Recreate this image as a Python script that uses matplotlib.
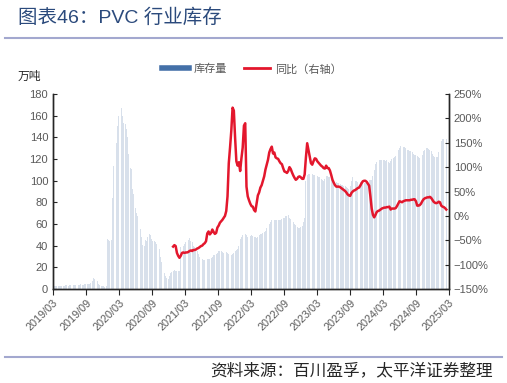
import matplotlib
matplotlib.use('Agg')
from matplotlib import pyplot as plt
from matplotlib.lines import Line2D
import matplotlib.dates as mdates
import matplotlib.ticker as mticker
import pandas as pd
import numpy as np

plt.rcParams['font.family'] = ['Liberation Sans', 'Noto Sans CJK SC', 'DejaVu Sans']

# 周度数据，2019/03 起
start_date = '2019-03-01'

# 库存量（万吨）
stock = [3, 3, 3, 3, 3, 3, 3, 3, 3, 3, 4, 4, 3,
         4, 4, 4, 4, 4, 4, 4, 4, 4, 5, 4, 4, 5,
         5, 5, 5, 5, 6,
         7, 10, 9, 9, 7, 5, 4, 3, 3, 3, 2, 3,
         46, 45, 44, 45, 84, 114, 121, 135, 150, 160, 163, 167,
         160, 153, 152, 148, 140, 125, 112, 111, 92, 88, 75, 70,
         67, 64, 55, 48, 41, 40, 45, 44, 48, 51, 50, 46,
         44, 44, 43, 42, 40, 37, 30, 25, 19, 15, 12, 10,
         9, 12, 15, 16, 17, 18, 17, 17, 17, 17,
         39, 40, 40, 42, 43, 46, 45, 47, 44, 43,
         40, 39, 37, 35, 32, 30, 29, 28, 27, 27,
         27, 28, 28, 28, 29, 30, 31, 31, 32, 33,
         35, 35, 35, 34, 33, 33, 34, 33, 32, 31,
         31, 32, 33, 35, 36, 37, 40, 46, 48, 50,
         52, 51, 50, 48, 48, 49, 50, 49, 48, 48,
         47, 48, 50, 51, 51, 52, 53, 54, 56, 58,
         60, 62, 64, 65, 64, 64, 64, 64, 64, 64,
         65, 66, 66, 67, 67, 68, 66, 65, 64, 62,
         60, 59, 57, 56, 56, 57, 58, 62, 66, 100,
         105, 106, 106, 105, 106, 105, 105, 104, 104, 103,
         103, 102, 101, 100, 102, 104, 104, 103, 103, 102,
         100, 100, 99, 99, 98, 98, 97, 96, 96, 95,
         95, 94, 93, 92, 95, 100, 103, 102, 100, 100,
         99, 99, 99, 98, 98, 98, 98, 99, 100, 101,
         101, 101, 104, 110, 115, 117, 118, 119, 119, 119,
         119, 119, 118, 119, 117, 116, 118, 120, 121, 122,
         123, 125, 128, 130, 132, 132, 131, 131, 130, 128,
         128, 127, 127, 126, 125, 124, 124, 123, 122, 121,
         121, 124, 127, 128, 130, 130, 129, 128, 127, 125,
         123, 122, 122, 122, 126, 132, 137, 138, 138, 139,
         138]

# 同比（%），前 95 周无数据
yoy_missing = 95
yoy = [-63, -60, -62, -76, -82, -86,
       -82, -76, -75, -76, -75, -75, -74, -72, -71, -72,
       -70, -70, -69, -67, -66, -64, -62, -61, -58, -56,
       -52, -36, -32, -38, -35, -28, -33, -37, -35, -24,
       -20, -14, -11, -8, -4, 0, 10, 40, 108, 140,
       175, 222, 216, 160, 112, 103, 110, 92, 118, 140,
       185, 190, 60, 40, 32, 25, 20, 19, 12, 9,
       25, 42, 48, 58, 63, 72, 81, 95, 105, 115,
       130, 137, 142, 128, 130, 120, 118, 117, 112, 108,
       106, 98, 91, 90, 88, 92, 100, 96, 89, 83,
       78, 74, 76, 80, 81, 79, 76, 76, 85, 120,
       149, 135, 120, 108, 105, 112, 118, 117, 112, 109,
       106, 103, 101, 98, 97, 103, 98, 98, 93, 84,
       74, 68, 63, 60, 60, 60, 59, 57, 55, 53,
       51, 48, 44, 42, 41, 47, 50, 52, 53, 55,
       57, 58, 62, 67, 71, 72, 72, 70, 66, 62,
       40, 15, 2, -3, 2, 8, 10, 11, 13, 15,
       16, 17, 17, 18, 18, 19, 13, 15, 15, 15,
       16, 20, 25, 30, 29, 28, 30, 31, 32, 32,
       32, 32, 33, 33, 34, 34, 30, 21, 21, 22,
       25, 30, 34, 36, 37, 38, 38, 39, 37, 33,
       29, 27, 26, 27, 29, 28, 21, 19, 18, 16,
       13]

tick_dates = pd.date_range('2019-03-01', '2025-03-01', freq='6MS')

dates = pd.date_range(start_date, periods=len(stock), freq='7D')
yoy_full = np.array([np.nan] * yoy_missing + yoy, dtype=float)

bar_color = '#D8E0EB'
legend_blue = '#4470A8'
red = '#E3172D'
grey = '#595959'

fig = plt.figure(figsize=(5.07, 3.83), dpi=100)
ax = fig.add_axes([53 / 507, 1 - 289 / 383, 396 / 507, 195 / 383])
ax2 = ax.twinx()

ax.bar(dates, stock, width=5, color=bar_color, linewidth=0, zorder=1)
ax2.plot(dates, yoy_full, color=red, linewidth=1.8, zorder=3)

ax.set_xlim(pd.Timestamp('2019-03-01'), pd.Timestamp('2025-03-01'))
ax.set_ylim(0, 180)
ax.set_yticks(range(0, 181, 20))
ax2.set_ylim(-150, 250)
ax2.set_yticks(range(-150, 251, 50))
ax2.yaxis.set_major_formatter(mticker.FuncFormatter(
    lambda v, p: ('%d%%' % v).replace('-', '\u2212')))

ax.set_xticks(tick_dates)
ax.xaxis.set_major_formatter(mdates.DateFormatter('%Y/%m'))
for lab in ax.get_xticklabels():
    lab.set_rotation(45)
    lab.set_ha('right')
    lab.set_rotation_mode('anchor')

# 坐标轴样式
for a in (ax, ax2):
    a.spines['top'].set_visible(False)
    for s in ('left', 'right', 'bottom'):
        a.spines[s].set_color('#262626')
        a.spines[s].set_linewidth(1.0)
ax.tick_params(axis='y', direction='in', length=3, labelsize=8, labelcolor=grey, color='#262626')
ax2.tick_params(axis='y', direction='in', length=3, labelsize=8, labelcolor=grey, color='#262626')
ax.tick_params(axis='x', direction='out', length=4, labelsize=7.8, labelcolor=grey, color='#262626', pad=2)

# 标题、单位、图例、来源
fig.text(18 / 507, 1 - 18 / 383, '图表46：PVC 行业库存', fontsize=14, color='#2B4A7C',
         ha='left', va='center')
fig.add_artist(Line2D([5 / 507, 502 / 507], [1 - 37.5 / 383] * 2, color='#A3A8CF', lw=1.5))
fig.add_artist(Line2D([5 / 507, 502 / 507], [1 - 357 / 383] * 2, color='#A3A8CF', lw=1.5))
fig.text(18 / 507, 1 - 77 / 383, '万吨', fontsize=8.5, color='#262626', ha='left', va='center')

handles = [Line2D([], [], color=legend_blue, lw=4), Line2D([], [], color=red, lw=2)]
fig.legend(handles, ['库存量', '同比（右轴）'], loc='center', bbox_to_anchor=(252 / 507, 1 - 69 / 383),
           ncol=2, frameon=False, fontsize=8, handlelength=2.4, columnspacing=1.5,
           handletextpad=0.4, labelcolor=grey)

fig.text(493 / 507, 1 - 370 / 383, '资料来源：百川盈孚，太平洋证券整理', fontsize=12,
         color='#262626', ha='right', va='center', style='italic')

plt.savefig('out.png', dpi=100)
